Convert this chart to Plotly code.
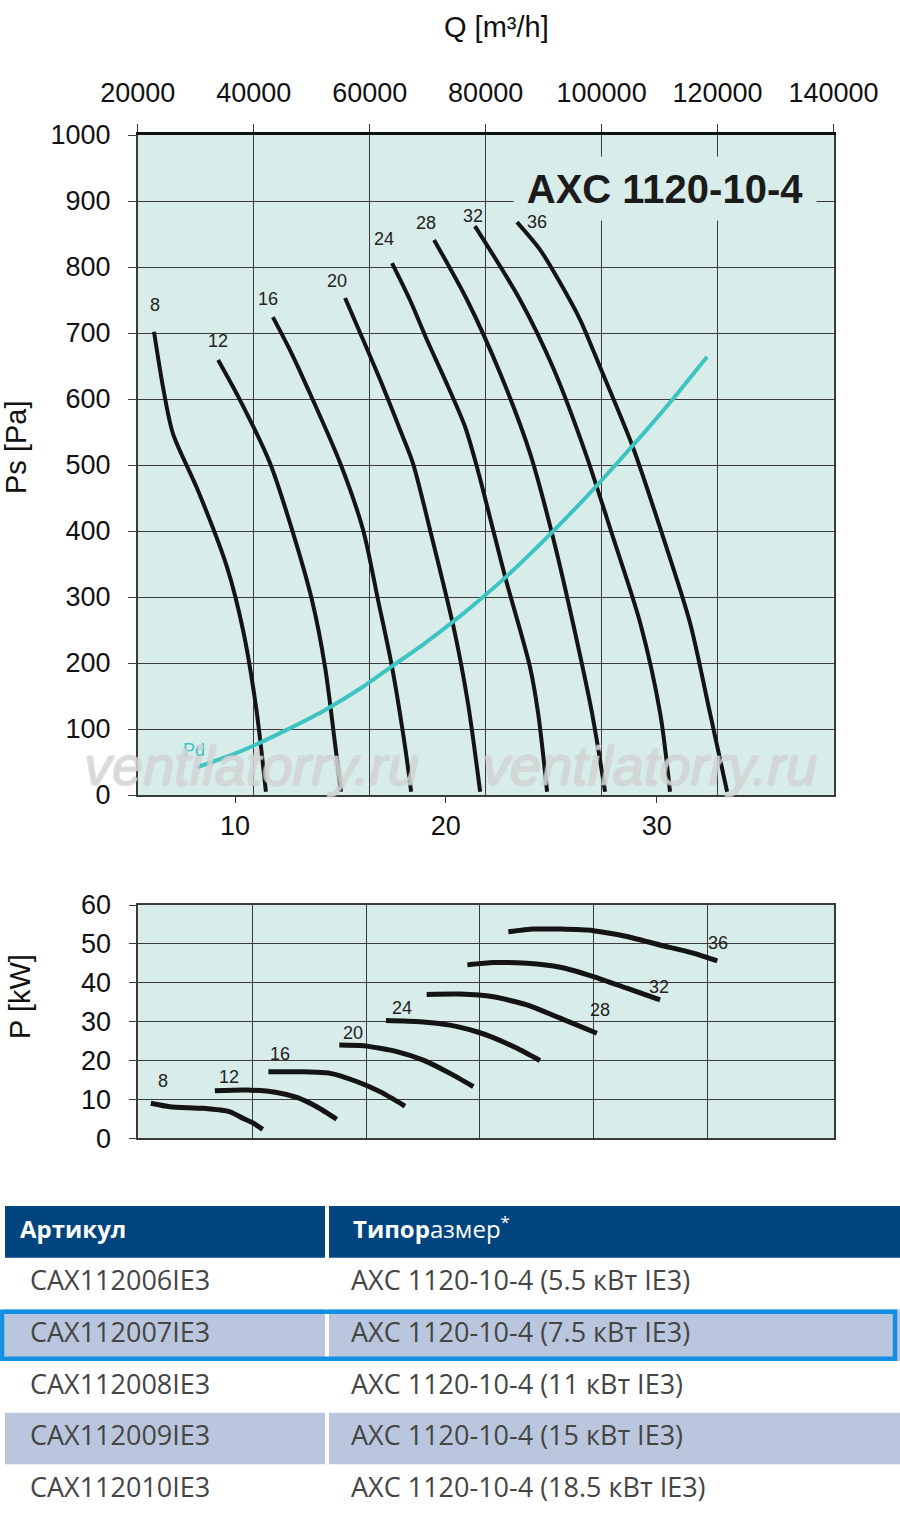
import plotly.graph_objects as go

# blade angles of the fan
angles = [8, 12, 16, 20, 24, 28, 32, 36]

# static pressure curves: Q [m3/h] / Ps [Pa]
q_8 = [22800, 24350, 26050, 30400, 35400, 38150, 40400, 42100]
ps_8 = [702, 618, 548, 461, 345, 250, 133, 5]
q_12 = [33850, 37650, 42800, 46600, 50050, 52300, 54000, 55050]
ps_12 = [659, 598, 503, 402, 295, 194, 79, 5]
q_16 = [43300, 46250, 49200, 54900, 58850, 61450, 63850, 66100, 67150]
ps_16 = [724, 674, 618, 503, 402, 295, 194, 73, 5]
q_20 = [55750, 61800, 65250, 67450, 70400, 74700, 76950, 79050]
ps_20 = [753, 629, 553, 503, 402, 245, 139, 5]
q_24 = [63850, 66950, 69900, 73000, 76450, 78500, 81600, 83500, 87650, 89050, 90600]
ps_24 = [806, 750, 689, 629, 558, 497, 391, 326, 194, 124, 5]
q_28 = [71100, 76800, 82500, 87650, 91600, 95050, 98350, 100600]
ps_28 = [841, 750, 639, 518, 391, 261, 124, 5]
q_32 = [78150, 85950, 91600, 97150, 101950, 106650, 110100, 111800]
ps_32 = [862, 750, 648, 520, 391, 261, 124, 5]
q_36 = [85400, 89400, 92850, 96300, 99750, 105400, 110600, 115250, 118700, 121650]
ps_36 = [868, 826, 776, 720, 648, 527, 391, 261, 124, 5]

# dynamic pressure Pd
q_pd = [30200, 35400, 40550, 45750, 51950, 58850, 64000, 69200, 75600, 79550, 83700, 91100, 97500, 103200, 107850, 112300, 118200]
pd = [42, 58, 77, 99, 127, 164, 196, 228, 271, 300, 332, 395, 453, 508, 554, 600, 664]

# power curves: Q [m3/h] / P [kW]
pq_8 = [22200, 25550, 31400, 36100, 38450, 40200, 41850]
p_8 = [9.0, 8.1, 7.7, 6.8, 5.1, 3.9, 2.3]
pq_12 = [33450, 39050, 44300, 47850, 51350, 54850]
p_12 = [12.2, 12.4, 11.8, 10.5, 8.1, 4.9]
pq_16 = [42850, 49000, 53700, 58350, 62450, 66850]
p_16 = [17.1, 17.1, 16.7, 14.6, 12.0, 8.3]
pq_20 = [55300, 59550, 65400, 70050, 74750, 78850]
p_20 = [24.0, 23.8, 22.3, 20.1, 16.7, 13.3]
pq_24 = [63500, 69500, 74750, 79450, 82350, 86450, 90550]
p_24 = [30.3, 30.0, 29.1, 27.4, 25.9, 23.2, 20.0]
pq_28 = [70650, 76500, 82350, 88250, 94100, 100550]
p_28 = [37.0, 37.1, 36.4, 34.3, 30.9, 27.0]
pq_32 = [77800, 82350, 88250, 94100, 99950, 105800, 111650]
p_32 = [44.6, 45.2, 45.0, 44.0, 41.6, 38.6, 35.6]
pq_36 = [85000, 89400, 94100, 99950, 105800, 111650, 117500, 121700]
p_36 = [53.1, 53.8, 53.8, 53.4, 51.9, 49.7, 47.6, 45.6]

q_ticks = [20000, 40000, 60000, 80000, 100000, 120000, 140000]
qs_ticks = [10, 20, 30]   # m3/s

# table
table_head = ["<b>Артикул</b>", "<b>Типор</b>азмер<sup>*</sup>"]
articles = ["CAX112006IE3", "CAX112007IE3", "CAX112008IE3", "CAX112009IE3", "CAX112010IE3"]
models = ["AXC 1120-10-4 (5.5 кВт IE3)", "AXC 1120-10-4 (7.5 кВт IE3)", "AXC 1120-10-4 (11 кВт IE3)",
          "AXC 1120-10-4 (15 кВт IE3)", "AXC 1120-10-4 (18.5 кВт IE3)"]
shaded_rows = [1, 3]
selected_row = 1

ps_curves = {8: (q_8, ps_8), 12: (q_12, ps_12), 16: (q_16, ps_16), 20: (q_20, ps_20),
             24: (q_24, ps_24), 28: (q_28, ps_28), 32: (q_32, ps_32), 36: (q_36, ps_36)}
p_curves = {8: (pq_8, p_8), 12: (pq_12, p_12), 16: (pq_16, p_16), 20: (pq_20, p_20),
            24: (pq_24, p_24), 28: (pq_28, p_28), 32: (pq_32, p_32), 36: (pq_36, p_36)}

# label offsets in px (xshift, yshift) and which end of the curve
top_lbl = {8: (1, 27), 12: (0, 19), 16: (-5, 18), 20: (-8, 17), 24: (-8, 24), 28: (-8, 17), 32: (-2, 10), 36: (20, 0)}
bot_lbl = {8: (0, 12, 22), 12: (0, 14, 14), 16: (0, 12, 18), 20: (0, 14, 12), 24: (0, 16, 12),
           28: (-1, 3, 23), 32: (-1, -1, 13), 36: (-1, 1, 18)}

FONT = "Liberation Sans, Arial, sans-serif"
TFONT = "Open Sans, sans-serif"
BG = "#d8ecea"
GRID = "#3a3a3a"
W, H = 900, 1524

fig = go.Figure()

for a in angles:
    q, ps = ps_curves[a]
    fig.add_trace(go.Scatter(x=q, y=ps, mode="lines", xaxis="x", yaxis="y",
                             line=dict(color="#141414", width=4, shape="spline", smoothing=0.8),
                             hoverinfo="skip"))
fig.add_trace(go.Scatter(x=q_pd, y=pd, mode="lines", xaxis="x", yaxis="y",
                         line=dict(color="#3ec3c3", width=4, shape="spline", smoothing=0.6),
                         hoverinfo="skip"))
# invisible helper so the m3/s axis gets drawn
fig.add_trace(go.Scatter(x=qs_ticks, y=[0] * len(qs_ticks), mode="markers", xaxis="x2", yaxis="y",
                         marker=dict(opacity=0), hoverinfo="skip"))
for a in angles:
    q, p = p_curves[a]
    fig.add_trace(go.Scatter(x=q, y=p, mode="lines", xaxis="x3", yaxis="y3",
                             line=dict(color="#141414", width=5, shape="spline", smoothing=0.6),
                             hoverinfo="skip"))


def paper_text(text, px, py, size, **kw):
    return dict(text=text, xref="paper", yref="paper", x=px / W, y=1 - py / H, showarrow=False,
                xanchor="center", yanchor="middle", font=kw.pop("font", dict(family=FONT, size=size, color="#111")),
                **kw)


annos = []
# title box over the grid
annos.append(paper_text("<b>AXC 1120-10-4</b>", 665, 188, 40, width=300, height=61, bgcolor=BG,
                        font=dict(family=FONT, size=40, color="#1b1b1b")))
for a in angles:
    q, ps = ps_curves[a]
    dx, dy = top_lbl[a]
    annos.append(dict(text=str(a), x=q[0], y=ps[0], xref="x", yref="y", showarrow=False,
                      xshift=dx, yshift=dy, font=dict(family=FONT, size=18, color="#222")))
    q, p = p_curves[a]
    i, dx, dy = bot_lbl[a]
    annos.append(dict(text=str(a), x=q[i], y=p[i], xref="x3", yref="y3", showarrow=False,
                      xshift=dx, yshift=dy, font=dict(family=FONT, size=18, color="#222")))
annos.append(dict(text="Pd", x=q_pd[0], y=pd[0], xref="x", yref="y", showarrow=False,
                  xshift=-3, yshift=17, font=dict(family=FONT, size=18, color="#3ec3c3")))

# axis titles
annos.append(paper_text("Q [m³/h]", 497, 27, 29))
annos.append(paper_text("Ps [Pa]", 16, 447, 29, textangle=-90))
annos.append(paper_text("P [kW]", 20, 997, 29, textangle=-90))

# watermark
for cx in (251, 649):
    annos.append(paper_text("ventilatorry.ru", cx, 765, 56,
                            font=dict(family=FONT, size=56, style="italic", color="rgba(255,255,255,0.35)",
                                      shadow="1px 0 0 #b8b8b8, -1px 0 0 #b8b8b8, 0 1px 0 #b8b8b8, 0 -1px 0 #b8b8b8")))

# table: cells drawn on their own axes (x in px-like units, one y unit per row)
shapes = [dict(type="rect", xref="x4", yref="y4", x0=0, x1=900, y0=0, y1=6,
               fillcolor="white", line=dict(width=0), layer="below")]
col_edges = [(5, 325), (329, 900)]
for x0, x1 in col_edges:
    shapes.append(dict(type="rect", xref="x4", yref="y4", x0=x0, x1=x1, y0=0, y1=1,
                       fillcolor="#00457f", line=dict(width=0), layer="below"))
for r in shaded_rows:
    for x0, x1 in col_edges:
        shapes.append(dict(type="rect", xref="x4", yref="y4", x0=x0, x1=x1, y0=r + 1, y1=r + 2,
                           fillcolor="#b9c6dd", line=dict(width=0), layer="below"))
shapes.append(dict(type="rect", xref="x4", yref="y4", x0=2.3, x1=895, y0=selected_row + 1.045,
                   y1=selected_row + 1.955, line=dict(color="#128fe0", width=4.5), layer="above"))

fig.add_trace(go.Scatter(x=[20, 353], y=[0.5, 0.5], text=table_head, mode="text", textposition="middle right",
                         xaxis="x4", yaxis="y4", hoverinfo="skip",
                         textfont=dict(family=TFONT, size=24, color="white")))
rows_y = [i + 1.5 for i in range(len(articles))]
fig.add_trace(go.Scatter(x=[30] * len(articles), y=rows_y, text=articles, mode="text",
                         textposition="middle right", xaxis="x4", yaxis="y4", hoverinfo="skip",
                         textfont=dict(family=TFONT, size=27, color="#454545")))
fig.add_trace(go.Scatter(x=[351] * len(models), y=rows_y, text=models, mode="text",
                         textposition="middle right", xaxis="x4", yaxis="y4", hoverinfo="skip",
                         textfont=dict(family=TFONT, size=27, color="#454545")))

tickfont = dict(family=FONT, size=27, color="#111")
top_dom_x = [137.8 / W, 833.5 / W]
top_dom_y = [1 - 795 / H, 1 - 135 / H]
bot_dom_y = [1 - 1138.3 / H, 1 - 905 / H]
tab_dom_y = [1 - 1516 / H, 1 - 1206 / H]

fig.update_layout(
    width=W, height=H, margin=dict(l=0, r=0, t=0, b=0, autoexpand=False),
    paper_bgcolor="white", plot_bgcolor=BG, showlegend=False,
    xaxis=dict(domain=top_dom_x, anchor="y", side="top", range=[20000, 140000], tickvals=q_ticks,
               tickformat="d", automargin=False,
               showgrid=True, gridcolor=GRID, gridwidth=1.3, showline=True, linecolor="#111", linewidth=2.5,
               ticks="outside", ticklen=8, tickcolor=GRID, tickfont=tickfont, ticklabelstandoff=11,
               zeroline=False),
    xaxis2=dict(overlaying="x", anchor="y", side="bottom", range=[5.389, 38.387], tickvals=qs_ticks,
                automargin=False,
                showgrid=False, showline=True, linecolor=GRID, linewidth=1.5, ticks="outside", ticklen=6,
                tickcolor=GRID, tickfont=tickfont, ticklabelstandoff=0, zeroline=False),
    yaxis=dict(domain=top_dom_y, anchor="x", range=[0, 1000], dtick=100, showgrid=True, gridcolor=GRID,
               automargin=False,
               gridwidth=1.3, showline=True, mirror=True, linecolor=GRID, linewidth=1.5, ticks="outside",
               ticklen=8, tickcolor=GRID, tickfont=tickfont, ticklabelstandoff=12, zeroline=False),
    xaxis3=dict(domain=[138.3 / W, 834 / W], anchor="y3", range=[20000, 142200], tickvals=q_ticks[1:-1],
                automargin=False,
                showticklabels=False, showgrid=True, gridcolor=GRID, gridwidth=1.3, showline=True, mirror=True,
                linecolor=GRID, linewidth=1.5, ticks="", zeroline=False),
    yaxis3=dict(domain=bot_dom_y, anchor="x3", range=[0, 60], dtick=10, showgrid=True, gridcolor=GRID,
                automargin=False,
                gridwidth=1.3, showline=True, mirror=True, linecolor=GRID, linewidth=1.5, ticks="outside",
                ticklen=8, tickcolor=GRID, tickfont=tickfont, ticklabelstandoff=12, zeroline=False),
    xaxis4=dict(domain=[0, 1], anchor="y4", range=[0, 900], visible=False, automargin=False),
    yaxis4=dict(domain=tab_dom_y, anchor="x4", range=[6, 0], visible=False, automargin=False),
    annotations=annos, shapes=shapes,
)

# drop the browser's default body margin so the 900x1524 figure sits flush in the window
fig.write_html("out.html", config={"displayModeBar": False},
               post_script="document.body.style.margin='0';document.body.style.overflow='hidden';")
